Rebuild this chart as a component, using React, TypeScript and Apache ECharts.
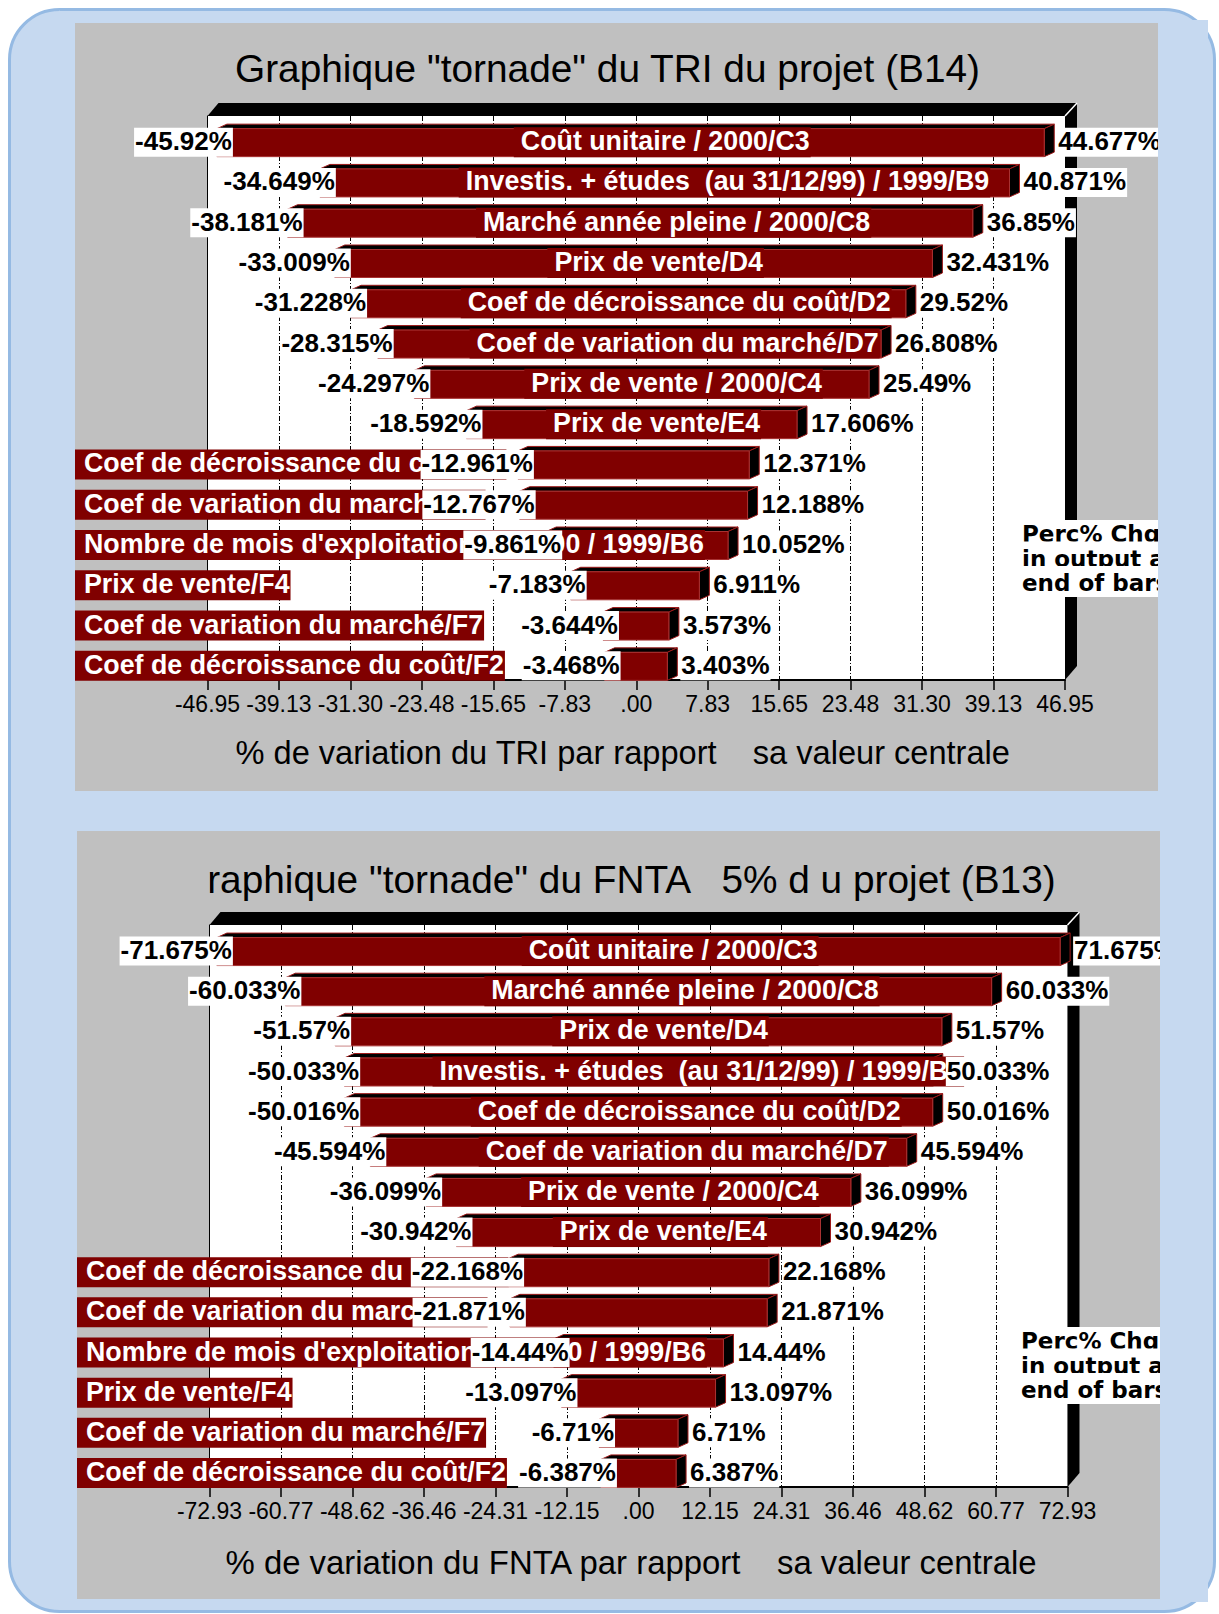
import React, { useEffect, useRef } from "react";
import * as echarts from "echarts";

// ---------------- DATA ----------------
const TRI_CATEGORIES = [
  "Coût unitaire / 2000/C3",
  "Investis. + études  (au 31/12/99) / 1999/B9",
  "Marché année pleine / 2000/C8",
  "Prix de vente/D4",
  "Coef de décroissance du coût/D2",
  "Coef de variation du marché/D7",
  "Prix de vente / 2000/C4",
  "Prix de vente/E4",
  "Coef de décroissance du coût/E2",
  "Coef de variation du marché/E7",
  "Nombre de mois d'exploitation en 2000 / 1999/B6",
  "Prix de vente/F4",
  "Coef de variation du marché/F7",
  "Coef de décroissance du coût/F2",
];
const TRI_LOW = [-45.92, -34.649, -38.181, -33.009, -31.228, -28.315, -24.297, -18.592, -12.961, -12.767, -9.861, -7.183, -3.644, -3.468];
const TRI_HIGH = [44.677, 40.871, 36.85, 32.431, 29.52, 26.808, 25.49, 17.606, 12.371, 12.188, 10.052, 6.911, 3.573, 3.403];
const TRI_AXIS_MAX = 46.95;
const TRI_TICKS = ["-46.95", "-39.13", "-31.30", "-23.48", "-15.65", "-7.83", ".00", "7.83", "15.65", "23.48", "31.30", "39.13", "46.95"];

const FNTA_CATEGORIES = [
  "Coût unitaire / 2000/C3",
  "Marché année pleine / 2000/C8",
  "Prix de vente/D4",
  "Investis. + études  (au 31/12/99) / 1999/B9",
  "Coef de décroissance du coût/D2",
  "Coef de variation du marché/D7",
  "Prix de vente / 2000/C4",
  "Prix de vente/E4",
  "Coef de décroissance du coût/E2",
  "Coef de variation du marché/E7",
  "Nombre de mois d'exploitation en 2000 / 1999/B6",
  "Prix de vente/F4",
  "Coef de variation du marché/F7",
  "Coef de décroissance du coût/F2",
];
const FNTA_LOW = [-71.675, -60.033, -51.57, -50.033, -50.016, -45.594, -36.099, -30.942, -22.168, -21.871, -14.44, -13.097, -6.71, -6.387];
const FNTA_HIGH = [71.675, 60.033, 51.57, 50.033, 50.016, 45.594, 36.099, 30.942, 22.168, 21.871, 14.44, 13.097, 6.71, 6.387];
const FNTA_AXIS_MAX = 72.93;
const FNTA_TICKS = ["-72.93", "-60.77", "-48.62", "-36.46", "-24.31", "-12.15", ".00", "12.15", "24.31", "36.46", "48.62", "60.77", "72.93"];

const TRI_TITLE = 'Graphique "tornade" du TRI du projet (B14)';
const TRI_AXIS_TITLE = "% de variation du TRI par rapport    sa valeur centrale";
const FNTA_TITLE = 'Graphique "tornade" du FNTA   5% d u projet (B13)';
const FNTA_AXIS_TITLE = "% de variation du FNTA par rapport    sa valeur centrale";
const PERC_LINES = ["Perc% Chg", "in output at", "end of bars"];

// ---------------- STYLE ----------------
const FONT = '"Liberation Sans", Arial, Helvetica, sans-serif';
const PERC_FONT = '"DejaVu Sans", Verdana, sans-serif';
const VALUE_SIZE = 26;
const CAT_SIZE = 26.8;
const VALUE_FONT = `bold ${VALUE_SIZE}px ${FONT}`;
const CAT_FONT = `bold ${CAT_SIZE}px ${FONT}`;
const PANEL_FILL = "#C6D9F0";
const GRAY = "#C0C0C0";
const BAR_RED = "#800000";
const DX = 10;
const DY = -4.5;
const FACE_H = 28;
const FACE_OFF = 6.5;
const TEXT_OFF = -1.5;

let measureCtx: CanvasRenderingContext2D | null = null;
function measure(text: string, font: string): number {
  if (!measureCtx) measureCtx = document.createElement("canvas").getContext("2d");
  if (!measureCtx) return text.length * 14;
  measureCtx.font = font;
  return measureCtx.measureText(text).width;
}

type Cfg = {
  categories: string[];
  low: number[];
  high: number[];
  ticks: string[];
  axisMax: number;
  left: number;
  top: number;
  width: number;
  height: number;
  panelLeft: number;
  panelTop: number;
  title: string;
  titleX: number;
  titleY: number;
  axisTitle: string;
  axisTitleX: number;
  axisTitleY: number;
  axisTitleSize: number;
  percX: number;
  percY: number;
  clipTitleAt?: number;
};

const CHARTS: Cfg[] = [
  {
    categories: TRI_CATEGORIES, low: TRI_LOW, high: TRI_HIGH, ticks: TRI_TICKS, axisMax: TRI_AXIS_MAX,
    left: 207.5, top: 116, width: 857.5, height: 564, panelLeft: 75, panelTop: 23,
    title: TRI_TITLE, titleX: 235, titleY: 68.5,
    axisTitle: TRI_AXIS_TITLE, axisTitleX: 235.5, axisTitleY: 752.5, axisTitleSize: 32.6,
    percX: 1020, percY: 520,
  },
  {
    categories: FNTA_CATEGORIES, low: FNTA_LOW, high: FNTA_HIGH, ticks: FNTA_TICKS, axisMax: FNTA_AXIS_MAX,
    left: 209.5, top: 925, width: 858, height: 562, panelLeft: 77, panelTop: 831,
    title: FNTA_TITLE, titleX: 177, titleY: 879,
    axisTitle: FNTA_AXIS_TITLE, axisTitleX: 225.5, axisTitleY: 1562.5, axisTitleSize: 32.9,
    percX: 1019, percY: 1327, clipTitleAt: 209.5,
  },
];

function buildOption() {
  const grid: any[] = [];
  const xAxis: any[] = [];
  const yAxis: any[] = [];
  const series: any[] = [];
  const graphics: any[] = [];

  graphics.push({
    type: "rect", z: -10,
    shape: { x: 9.5, y: 9.5, width: 1205, height: 1602, r: 50 },
    style: { fill: PANEL_FILL, stroke: "#95BAE3", lineWidth: 3 },
  });

  CHARTS.forEach((cfg, gi) => {
    const step = cfg.axisMax / 6;
    const data = cfg.categories.map((_, i) => [cfg.low[i], cfg.high[i], i]);
    const L = cfg.left, T = cfg.top, R = cfg.left + cfg.width, B = cfg.top + cfg.height;

    grid.push({
      left: L, top: T, width: cfg.width, height: cfg.height,
      show: true, backgroundColor: "#ffffff", borderWidth: 0,
      containLabel: false, outerBoundsMode: "none",
    });
    xAxis.push({
      type: "value", gridIndex: gi, min: -cfg.axisMax, max: cfg.axisMax, interval: step,
      axisLine: { show: true, onZero: false, lineStyle: { color: "#000", width: 2 } },
      axisTick: { show: true, length: 10, lineStyle: { color: "#000", width: 1.5 } },
      axisLabel: {
        show: true, margin: 12, color: "#000", fontSize: 23, fontFamily: FONT,
        showMinLabel: true, showMaxLabel: true,
        formatter: (v: number) => cfg.ticks[Math.round(v / step) + 6] ?? "",
      },
      splitLine: {
        show: true, showMinLine: false, showMaxLine: false,
        lineStyle: { color: "#000", width: 1, type: [5, 2, 1, 2] },
      },
    });
    yAxis.push({
      type: "category", gridIndex: gi, inverse: true, data: cfg.categories,
      axisLine: { show: true, onZero: false, lineStyle: { color: "#000", width: 1 } },
      axisTick: { show: false }, axisLabel: { show: false }, splitLine: { show: false },
    });

    const geo = (api: any) => {
      const lo = api.value(0) as number;
      const hi = api.value(1) as number;
      const idx = api.value(2) as number;
      const p0 = api.coord([lo, idx]);
      const p1 = api.coord([hi, idx]);
      return { lo, hi, x0: p0[0], x1: p1[0], cy: p0[1] + FACE_OFF };
    };

    // 3D bars
    series.push({
      type: "custom", xAxisIndex: gi, yAxisIndex: gi, z: 3, clip: false, silent: true,
      encode: { x: [0, 1], y: 2 }, data,
      renderItem: (_p: any, api: any) => {
        const { x0, x1, cy } = geo(api);
        const t = cy - FACE_H / 2, b = cy + FACE_H / 2;
        return {
          type: "group",
          children: [
            { type: "polygon", shape: { points: [[x0, t], [x0 + DX, t + DY], [x1 + DX, t + DY], [x1, t]] }, style: { fill: "#000", stroke: "#9e1a1a", lineWidth: 1 } },
            { type: "polygon", shape: { points: [[x1, t], [x1 + DX, t + DY], [x1 + DX, b + DY], [x1, b]] }, style: { fill: "#000", stroke: "#9e1a1a", lineWidth: 1 } },
            { type: "rect", shape: { x: x0, y: t, width: x1 - x0, height: FACE_H }, style: { fill: BAR_RED, stroke: "#a83232", lineWidth: 1 } },
          ],
        };
      },
    });

    // category labels
    series.push({
      type: "custom", xAxisIndex: gi, yAxisIndex: gi, z: 4, clip: false, silent: true,
      encode: { x: [0, 1], y: 2 }, data,
      renderItem: (p: any, api: any) => {
        const { x0, x1, cy } = geo(api);
        const text = cfg.categories[p.dataIndex];
        const w = measure(text, CAT_FONT);
        let textLeft: number, boxLeft: number;
        if (w <= x1 - x0) {
          textLeft = (x0 + x1) / 2 - 0.38 * w;
          boxLeft = textLeft - 7;
        } else {
          boxLeft = cfg.panelLeft;
          textLeft = boxLeft + 9;
        }
        const boxRight = textLeft + w + 1;
        return {
          type: "group",
          children: [
            { type: "rect", shape: { x: boxLeft, y: cy - 15.5, width: boxRight - boxLeft, height: 30 }, style: { fill: BAR_RED } },
            { type: "text", x: textLeft, y: cy + TEXT_OFF, style: { text, fill: "#fff", fontSize: CAT_SIZE, fontWeight: "bold", fontFamily: FONT, align: "left", verticalAlign: "middle" } },
          ],
        };
      },
    });

    // value labels
    series.push({
      type: "custom", xAxisIndex: gi, yAxisIndex: gi, z: 5, clip: false, silent: true,
      encode: { x: [0, 1], y: 2 }, data,
      renderItem: (_p: any, api: any) => {
        const { lo, hi, x0, x1, cy } = geo(api);
        const neg = String(lo) + "%";
        const pos = String(hi) + "%";
        const wn = measure(neg, VALUE_FONT);
        const wp = measure(pos, VALUE_FONT);
        const nLeft = x0 + 16 - wn - 2;
        const pLeft = x1 + 13;
        const ts = { fill: "#000", fontSize: VALUE_SIZE, fontWeight: "bold", fontFamily: FONT, align: "left", verticalAlign: "middle" };
        return {
          type: "group",
          children: [
            { type: "rect", shape: { x: nLeft, y: cy - 15, width: wn + 2, height: 29 }, style: { fill: "#fff" } },
            { type: "text", x: nLeft + 1, y: cy + TEXT_OFF, style: { ...ts, text: neg } },
            { type: "rect", shape: { x: pLeft, y: cy - 15, width: wp + 2, height: 29 }, style: { fill: "#fff" } },
            { type: "text", x: pLeft + 1, y: cy + TEXT_OFF, style: { ...ts, text: pos } },
          ],
        };
      },
    });

    // gray chart area
    graphics.push({ type: "rect", z: -9, shape: { x: cfg.panelLeft, y: cfg.panelTop, width: 1083, height: 768 }, style: { fill: GRAY } });

    // 3D frame (top and right walls)
    graphics.push({ type: "polygon", z: 1, shape: { points: [[L, T], [L + 11, T - 13], [R + 12, T - 13], [R, T]] }, style: { fill: "#000" } });
    graphics.push({ type: "polygon", z: 1, shape: { points: [[R, T], [R + 12, T - 13], [R + 12, B - 14], [R, B]] }, style: { fill: "#000" } });
    graphics.push({ type: "line", z: 1, shape: { x1: R, y1: T, x2: R + 12, y2: T - 13 }, style: { stroke: "#fff", lineWidth: 1.5 } });

    // titles
    graphics.push({ type: "text", z: 1, x: cfg.titleX, y: cfg.titleY, style: { text: cfg.title, fill: "#000", fontSize: 38.8, fontFamily: FONT, align: "left", verticalAlign: "middle" } });
    if (cfg.clipTitleAt) {
      graphics.push({ type: "rect", z: 20, shape: { x: cfg.panelLeft + 40, y: cfg.titleY - 28, width: cfg.clipTitleAt - cfg.panelLeft - 40, height: 56 }, style: { fill: GRAY } });
    }
    graphics.push({ type: "text", z: 1, x: cfg.axisTitleX, y: cfg.axisTitleY, style: { text: cfg.axisTitle, fill: "#000", fontSize: cfg.axisTitleSize, fontFamily: FONT, align: "left", verticalAlign: "middle" } });

    // "Perc% Chg" note
    const clipTops = [0, 21.5, 46];
    const textYs = [13.5, 38.5, 63];
    PERC_LINES.forEach((line, k) => {
      graphics.push({ type: "rect", z: 6 + 2 * k, shape: { x: cfg.percX, y: cfg.percY + clipTops[k], width: 170, height: 77 - clipTops[k] }, style: { fill: "#fff" } });
      graphics.push({ type: "text", z: 7 + 2 * k, x: cfg.percX + 2, y: cfg.percY + textYs[k], style: { text: line, fill: "#000", fontSize: 23, fontWeight: "bold", fontFamily: PERC_FONT, align: "left", verticalAlign: "middle" } });
    });

    // right-side clipping of the chart area
    const rightEdge = cfg.panelLeft + 1083;
    graphics.push({ type: "rect", z: 30, shape: { x: rightEdge, y: cfg.panelTop - 3, width: 1208 - rightEdge, height: 774 }, style: { fill: PANEL_FILL } });
  });

  return {
    animation: false,
    grid, xAxis, yAxis, series,
    graphic: { elements: graphics },
  };
}

export default function App() {
  const ref = useRef<HTMLDivElement>(null);
  useEffect(() => {
    if (!ref.current) return;
    const chart = echarts.init(ref.current, undefined, { renderer: "svg", width: 1219, height: 1614 });
    chart.setOption(buildOption() as any);
    return () => chart.dispose();
  }, []);
  return (
    <div
      ref={ref}
      style={{ position: "absolute", left: 0, top: 0, width: 1219, height: 1614, background: "#fff" }}
    />
  );
}
